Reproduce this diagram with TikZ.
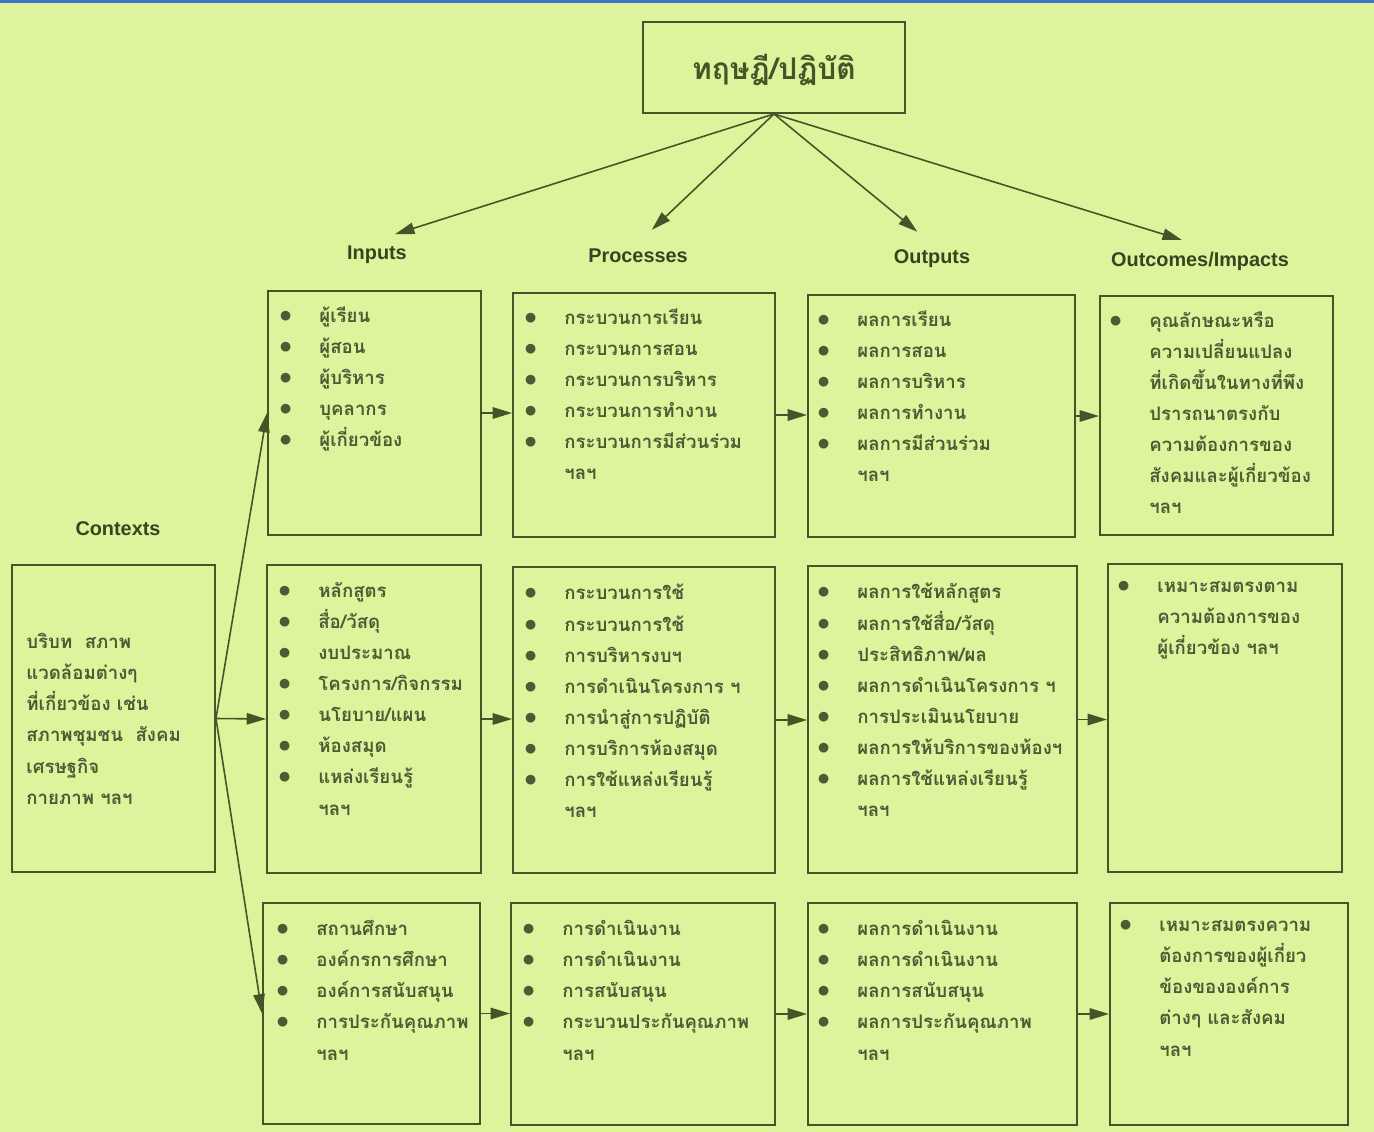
\documentclass[tikz,border=0pt]{standalone}
\usepackage{fontspec}
\setmainfont{Liberation Sans}
\newfontfamily\thai[Script=Thai]{Loma}
\usetikzlibrary{arrows.meta, positioning, calc, fit}

\definecolor{paper}{RGB}{221,244,156}
\definecolor{ink}{RGB}{70,84,40}
\definecolor{txt}{RGB}{78,90,52}
\definecolor{rule}{RGB}{68,114,196}

\newcommand{\bl}{\makebox[0.8cm][l]{\fontsize{15}{15}\selectfont$\bullet$}}
\newcommand{\nb}{\hspace{0.8cm}}

\tikzset{
  box/.style={draw=ink, line width=1.1pt, inner sep=0pt},
  head/.style={font=\bfseries\fontsize{11.3}{13}\selectfont, text=ink!80!black},
  list/.style={anchor=north west, align=left, inner sep=0pt, text=txt,
    font=\thai\bfseries\fontsize{10.6}{17.7}\selectfont,
    execute at begin node=\rule{0pt}{12pt}},
  link/.style={draw=ink, line width=0.9pt, -{Triangle[length=11pt,width=6.5pt]}},
}

\begin{document}
\begin{tikzpicture}[x=0.02cm, y=-0.02cm]
  \fill[paper] (0,0) rectangle (1374,1132);
  \useasboundingbox (0,0) rectangle (1374,1132);
  \fill[rule] (0,0) rectangle (1374,3);

  % Top box
  \node[box, fit={(643,22) (905,113)}] (top) {};
  \node[font=\thai\bfseries\fontsize{17}{20}\selectfont, text=ink] (ttl) at ($(top)+(0,2)$) {ทฤษฎี/ปฏิบัติ};

  % Column heads
  \node[head] (hin) at (377,255) {Inputs};
  \node[head] (hpr) at (638,256) {Processes};
  \node[head] (hout) at (932,259) {Outputs};
  \node[head] (himp) at (1200,261) {Outcomes/Impacts};
  \node[head] (hctx) at (118,529) {Contexts};

  \foreach \h in {hin, hpr, hout, himp}
    \draw[link, shorten >=0.38cm] (top.south) -- (\h.north);

  % Contexts
  \node[box, fit={(12,565) (215,872)}] (ctx) {};
  \node[list] (tctx) at ($(ctx.north west)+(15,69)$)
    {บริบท\ \ สภาพ\\แวดล้อมต่างๆ\\ที่เกี่ยวข้อง เช่น\\สภาพชุมชน\ \ สังคม\\เศรษฐกิจ\\กายภาพ ฯลฯ};

  % Row 1
  \node[box, fit={(268,291) (481,535)}] (in1) {};
  \node[box, fit={(513,293) (775,537)}] (pr1) {};
  \node[box, fit={(808,295) (1075,537)}] (out1) {};
  \node[box, fit={(1100,296) (1333,535)}] (imp1) {};
  \node[list] (tin1) at ($(in1.north west)+(12,16)$)
    {\bl ผู้เรียน\\\bl ผู้สอน\\\bl ผู้บริหาร\\\bl บุคลากร\\\bl ผู้เกี่ยวข้อง};
  \node[list] (tpr1) at ($(pr1.north west)+(12,16)$)
    {\bl กระบวนการเรียน\\\bl กระบวนการสอน\\\bl กระบวนการบริหาร\\\bl กระบวนการทำงาน\\\bl กระบวนการมีส่วนร่วม\\\nb ฯลฯ};
  \node[list] (tout1) at ($(out1.north west)+(10,16)$)
    {\bl ผลการเรียน\\\bl ผลการสอน\\\bl ผลการบริหาร\\\bl ผลการทำงาน\\\bl ผลการมีส่วนร่วม\\\nb ฯลฯ};
  \node[list] (timp1) at ($(imp1.north west)+(10,16)$)
    {\bl คุณลักษณะหรือ\\\nb ความเปลี่ยนแปลง\\\nb ที่เกิดขึ้นในทางที่พึง\\\nb ปรารถนาตรงกับ\\\nb ความต้องการของ\\\nb สังคมและผู้เกี่ยวข้อง\\\nb ฯลฯ};

  % Row 2
  \node[box, fit={(267,565) (481,873)}] (in2) {};
  \node[box, fit={(513,567) (775,873)}] (pr2) {};
  \node[box, fit={(808,566) (1077,873)}] (out2) {};
  \node[box, fit={(1108,564) (1342,872)}] (imp2) {};
  \node[list] (tin2) at ($(in2.north west)+(12,18)$)
    {\bl หลักสูตร\\\bl สื่อ/วัสดุ\\\bl งบประมาณ\\\bl โครงการ/กิจกรรม\\\bl นโยบาย/แผน\\\bl ห้องสมุด\\\bl แหล่งเรียนรู้\\\nb ฯลฯ};
  \node[list] (tpr2) at ($(pr2.north west)+(12,18)$)
    {\bl กระบวนการใช้\\\bl กระบวนการใช้\\\bl การบริหารงบฯ\\\bl การดำเนินโครงการ ฯ\\\bl การนำสู่การปฏิบัติ\\\bl การบริการห้องสมุด\\\bl การใช้แหล่งเรียนรู้\\\nb ฯลฯ};
  \node[list] (tout2) at ($(out2.north west)+(10,18)$)
    {\bl ผลการใช้หลักสูตร\\\bl ผลการใช้สื่อ/วัสดุ\\\bl ประสิทธิภาพ/ผล\\\bl ผลการดำเนินโครงการ ฯ\\\bl การประเมินนโยบาย\\\bl ผลการให้บริการของห้องฯ\\\bl ผลการใช้แหล่งเรียนรู้\\\nb ฯลฯ};
  \node[list] (timp2) at ($(imp2.north west)+(10,18)$)
    {\bl เหมาะสมตรงตาม\\\nb ความต้องการของ\\\nb ผู้เกี่ยวข้อง ฯลฯ};

  % Row 3
  \node[box, fit={(263,903) (480,1124)}] (in3) {};
  \node[box, fit={(511,903) (775,1125)}] (pr3) {};
  \node[box, fit={(808,903) (1077,1125)}] (out3) {};
  \node[box, fit={(1110,903) (1348,1125)}] (imp3) {};
  \node[list] (tin3) at ($(in3.north west)+(14,18)$)
    {\bl สถานศึกษา\\\bl องค์กรการศึกษา\\\bl องค์การสนับสนุน\\\bl การประกันคุณภาพ\\\nb ฯลฯ};
  \node[list] (tpr3) at ($(pr3.north west)+(12,18)$)
    {\bl การดำเนินงาน\\\bl การดำเนินงาน\\\bl การสนับสนุน\\\bl กระบวนประกันคุณภาพ\\\nb ฯลฯ};
  \node[list] (tout3) at ($(out3.north west)+(10,18)$)
    {\bl ผลการดำเนินงาน\\\bl ผลการดำเนินงาน\\\bl ผลการสนับสนุน\\\bl ผลการประกันคุณภาพ\\\nb ฯลฯ};
  \node[list] (timp3) at ($(imp3.north west)+(10,18)$)
    {\bl เหมาะสมตรงความ\\\nb ต้องการของผู้เกี่ยว\\\nb ข้องขององค์การ\\\nb ต่างๆ และสังคม\\\nb ฯลฯ};

  % Contexts to inputs
  \draw[link] (ctx.east) -- (in1.west);
  \draw[link] (ctx.east) -- (in2.west);
  \draw[link] (ctx.east) -- (in3.west);

  % Along the rows
  \foreach \r in {1,2,3} {
    \draw[link] (in\r.east) -- (in\r.east -| pr\r.west);
    \draw[link] (pr\r.east) -- (pr\r.east -| out\r.west);
    \draw[link] (out\r.east) -- (out\r.east -| imp\r.west);
  }
\end{tikzpicture}
\end{document}
